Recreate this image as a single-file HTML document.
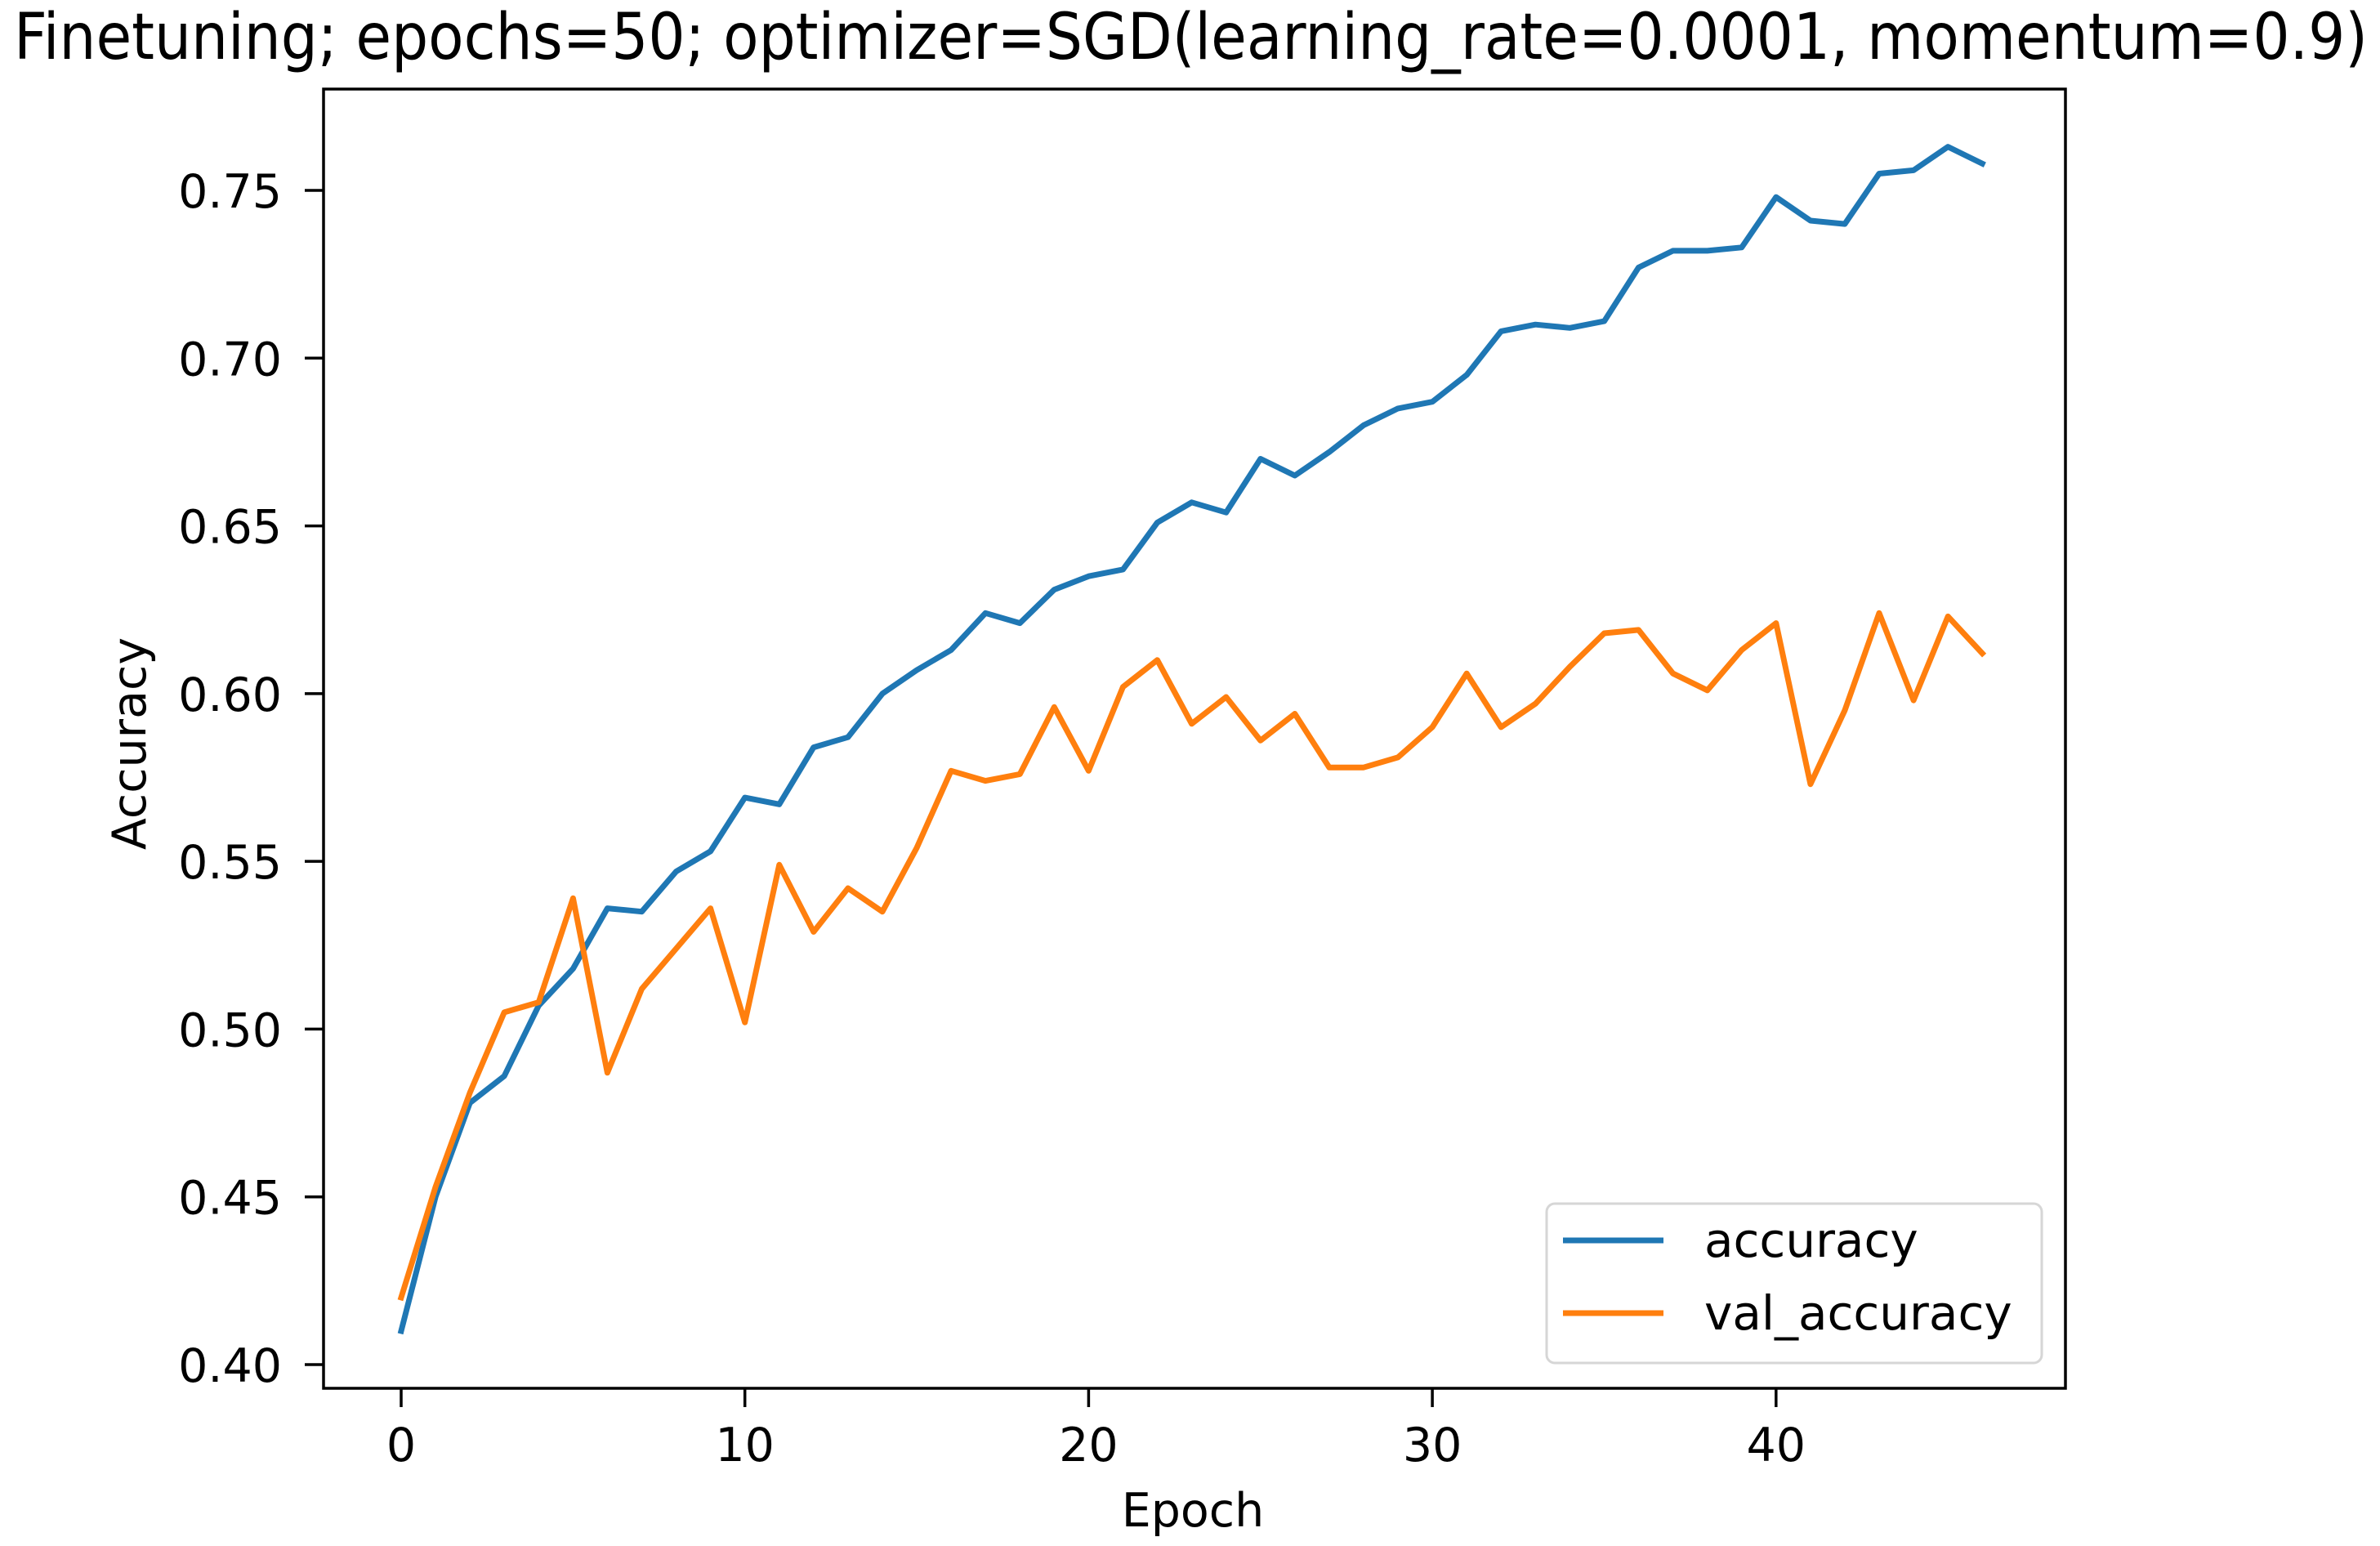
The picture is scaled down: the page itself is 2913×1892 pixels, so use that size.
<!DOCTYPE html>
<html><head><meta charset="utf-8"><style>
html,body{margin:0;padding:0;background:#fff;}
svg{display:block;font-family:"DejaVu Sans","Liberation Sans",sans-serif;}
</style></head><body>
<svg id="chart" width="2913" height="1892" viewBox="0 0 2913 1892" xmlns="http://www.w3.org/2000/svg">
<rect width="2913" height="1892" fill="#fff"/>
<text x="17" y="72" font-size="78" textLength="2881" lengthAdjust="spacingAndGlyphs" fill="#000">Finetuning; epochs=50; optimizer=SGD(learning_rate=0.0001, momentum=0.9)</text>
<g id="plot"></g>
<text x="1460" y="1868" font-size="57" text-anchor="middle" fill="#000">Epoch</text>
<text transform="translate(178,910) rotate(-90)" font-size="57" text-anchor="middle" fill="#000">Accuracy</text>
</svg>
<script>
const epochs = Array.from({length:47},(_, i)=>i);
const accuracy = [0.41,0.45,0.478,0.486,0.507,0.518,0.536,0.535,0.547,0.553,0.569,0.567,0.584,0.587,0.600,0.607,0.613,0.624,0.621,0.631,0.635,0.637,0.651,0.657,0.654,0.670,0.665,0.672,0.680,0.685,0.687,0.695,0.708,0.710,0.709,0.711,0.727,0.732,0.732,0.733,0.748,0.741,0.740,0.755,0.756,0.763,0.758];
const valAccuracy = [0.420,0.453,0.481,0.505,0.508,0.539,0.487,0.512,0.524,0.536,0.502,0.549,0.529,0.542,0.535,0.554,0.577,0.574,0.576,0.596,0.577,0.602,0.610,0.591,0.599,0.586,0.594,0.578,0.578,0.581,0.590,0.606,0.590,0.597,0.608,0.618,0.619,0.606,0.601,0.613,0.621,0.573,0.595,0.624,0.598,0.623,0.612];
const yTicks = [0.40,0.45,0.50,0.55,0.60,0.65,0.70,0.75];
const yTickLabels = ["0.40","0.45","0.50","0.55","0.60","0.65","0.70","0.75"];
const xTicks = [0,10,20,30,40];
const xTickLabels = ["0","10","20","30","40"];

const NS="http://www.w3.org/2000/svg";
const L=396,R=2528,T=109,B=1699;
const x0=491, pxPerEpoch=42.07;
function xs(v){return x0+v*pxPerEpoch;}
function ys(v){return 1670-(v-0.40)*4105.7;}
const g=document.getElementById('plot');
function mk(tag,attrs){const e=document.createElementNS(NS,tag);for(const k in attrs)e.setAttribute(k,attrs[k]);return e;}

function drawLine(vals,color,name){
  const d=vals.map((v,i)=>(i?'L':'M')+xs(epochs[i]).toFixed(1)+','+ys(v).toFixed(1)).join(' ');
  const p=mk('path',{d:d,fill:'none',stroke:color,'stroke-width':'7','stroke-linejoin':'round','stroke-linecap':'square'});
  
  
  g.appendChild(p);
}
drawLine(accuracy,'#1f77b4','accuracy-line');
drawLine(valAccuracy,'#ff7f0e','val-accuracy-line');

const frame=mk('rect',{x:L,y:T,width:R-L,height:B-T,fill:'none',stroke:'#000','stroke-width':'3.5'});


g.appendChild(frame);

yTicks.forEach((v,i)=>{
  const y=ys(v);
  const t=mk('line',{x1:L-23,x2:L,y1:y,y2:y,stroke:'#000','stroke-width':'3.5'});
  
  
  g.appendChild(t);
  const lb=mk('text',{x:345,y:y+21,'font-size':'57','text-anchor':'end',fill:'#000'});
  lb.textContent=yTickLabels[i];
  
  
  g.appendChild(lb);
});
xTicks.forEach((v,i)=>{
  const x=xs(v);
  const t=mk('line',{x1:x,x2:x,y1:B,y2:B+23,stroke:'#000','stroke-width':'3.5'});
  
  
  g.appendChild(t);
  const lb=mk('text',{x:x,y:1788,'font-size':'57','text-anchor':'middle',fill:'#000'});
  lb.textContent=xTickLabels[i];
  
  
  g.appendChild(lb);
});

const leg=mk('g',{});


g.appendChild(leg);
leg.appendChild(mk('rect',{x:1893,y:1473,width:606,height:195,rx:10,fill:'#fff','fill-opacity':'0.8',stroke:'#d6d6d6','stroke-width':'3'}));
[['accuracy','#1f77b4',1518],['val_accuracy','#ff7f0e',1607]].forEach(([lab,col,y])=>{
  const e=mk('g',{});
  
  
  e.appendChild(mk('line',{x1:1913,x2:2036,y1:y,y2:y,stroke:col,'stroke-width':'7'}));
  const t=mk('text',{x:2086,y:y+20,'font-size':'58',fill:'#000'});
  t.textContent=lab;
  e.appendChild(t);
  leg.appendChild(e);
});
</script>
</body></html>
